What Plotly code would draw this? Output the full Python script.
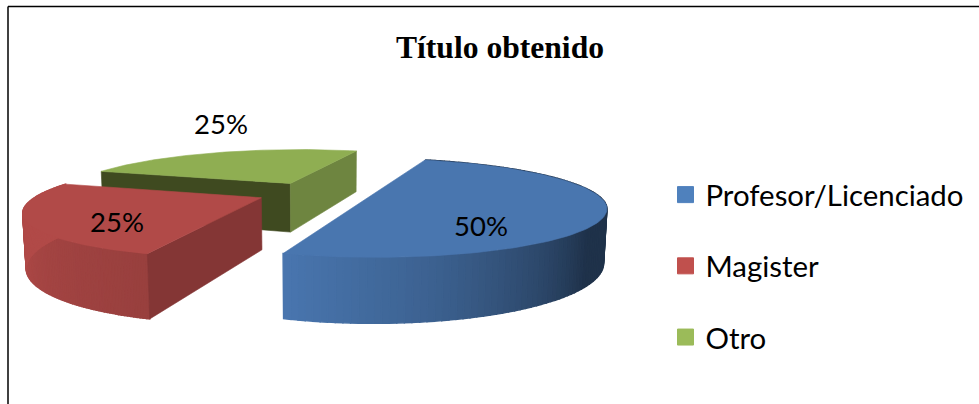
import numpy as np
import plotly.graph_objects as go

categories = ["Profesor/Licenciado", "Magister", "Otro"]
values = [50, 25, 25]
legend_colors = ["#4F81BD", "#C0504D", "#9BBB59"]
top_colors = ["#4976AF", "#B14A48", "#8FAE52"]
start_wall = [None, "#843635", "#3F4A20"]
end_wall = [None, None, "#6E8540"]
label_xy = [(481, 225), (117, 221), (221, 123)]
title_text = "Título obtenido"
explode = [0.266, 0.24, 0.24]
radius = [1.0, 0.975, 1.0]

# pie camera: perspective projection onto the 979x404 pixel plane
O = np.array([312.0, 192.7])
V1 = np.array([680.0, -8.0])
V2 = np.array([-2813.0, -15.0])
V3 = np.array([320.0, 4950.0])
A, B, C = 0.214, 0.068, 0.0108


def project(x, y, z=0.0):
    w = A * x + B * y + C * z + 1
    p = (A * x * V1[0] + B * y * V2[0] + C * z * V3[0] + O[0]) / w
    q = (A * x * V1[1] + B * y * V2[1] + C * z * V3[1] + O[1]) / w
    return p, q


def hex_scale(c, f):
    r, g, b = [int(c[i:i + 2], 16) for i in (1, 3, 5)]
    return f"rgb({r * f:.0f},{g * f:.0f},{b * f:.0f})"


def shade(i, th):
    if i == 0:
        return float(np.interp(th, [108, 125, 150, 180], [0.42, 0.6, 0.82, 1.0]))
    if i == 1:
        return float(np.interp(th, [180, 215, 240], [0.86, 0.93, 1.0]))
    return 0.8


fig = go.Figure()


def poly(xs, ys, color, width=0.6):
    fig.add_trace(go.Scatter(x=xs, y=ys, mode="lines", fill="toself", fillcolor=color,
                             line=dict(color=color, width=width), hoverinfo="skip", showlegend=False))


total = sum(values)
edges = np.r_[0.0, np.cumsum(values)] / total * 360
# painter's order: farthest slice first
for i in (2, 1, 0):
    t0, t1 = edges[i], edges[i + 1]
    mid = np.radians((t0 + t1) / 2)
    ax, ay = explode[i] * np.cos(mid), -explode[i] * np.sin(mid)
    th = np.linspace(t0, t1, 121)
    wx = ax + radius[i] * np.cos(np.radians(th))
    wy = ay - radius[i] * np.sin(np.radians(th))
    # curved wall
    if i < 2:
        for k in range(len(th) - 1):
            a = project(wx[k], wy[k]); b = project(wx[k + 1], wy[k + 1])
            c = project(wx[k + 1], wy[k + 1], 1); d = project(wx[k], wy[k], 1)
            poly([a[0], b[0], c[0], d[0], a[0]], [a[1], b[1], c[1], d[1], a[1]],
                 hex_scale(top_colors[i], shade(i, (th[k] + th[k + 1]) / 2)), 1.4)
    # radial walls
    for col, idx in ((start_wall[i], 0), (end_wall[i], -1)):
        if col:
            a = project(ax, ay); b = project(wx[idx], wy[idx])
            c = project(wx[idx], wy[idx], 1); d = project(ax, ay, 1)
            poly([a[0], b[0], c[0], d[0], a[0]], [a[1], b[1], c[1], d[1], a[1]], col)
    # top face
    px, py = project(np.r_[ax, wx, ax], np.r_[ay, wy, ay])
    poly(list(px), list(py), top_colors[i])

# legend entries
for name, col in zip(categories, legend_colors):
    fig.add_trace(go.Scatter(x=[None], y=[None], mode="markers", name=name, legendgroup=name,
                             marker=dict(symbol="square", size=16, color=col, line=dict(color=col, width=1))))

annots = [dict(x=x, y=y, text=f"{v}%", showarrow=False, xref="x", yref="y",
               font=dict(family="Lato", size=27.5, color="black"))
          for (x, y), v in zip(label_xy, values)]

border = dict(color="black", width=1.5)
shapes = [
    dict(type="line", xref="x", yref="y", x0=8, x1=8, y0=6.5, y1=404, line=border),
    dict(type="line", xref="x", yref="y", x0=8, x1=979, y0=6.5, y1=6.5, line=border),
]

fig.update_layout(
    width=979, height=404, margin=dict(l=0, r=0, t=0, b=0),
    paper_bgcolor="white", plot_bgcolor="white",
    title=dict(text=title_text, x=500 / 979, xanchor="center", y=0.885, yanchor="middle",
               font=dict(family="Liberation Serif", size=31.6, color="black", weight="bold")),
    xaxis=dict(range=[0, 979], visible=False, fixedrange=True),
    yaxis=dict(range=[404, 0], visible=False, fixedrange=True),
    legend=dict(x=665.5 / 979, xanchor="left", y=1 - 169 / 404, yanchor="top",
                font=dict(family="Lato", size=29.4, color="black"),
                itemsizing="trace", tracegroupgap=30, bgcolor="rgba(0,0,0,0)"),
    annotations=annots, shapes=shapes,
)
fig.write_html("out.html", config={"displayModeBar": False},
               post_script="document.body.style.margin='0';document.body.style.overflow='hidden';")
